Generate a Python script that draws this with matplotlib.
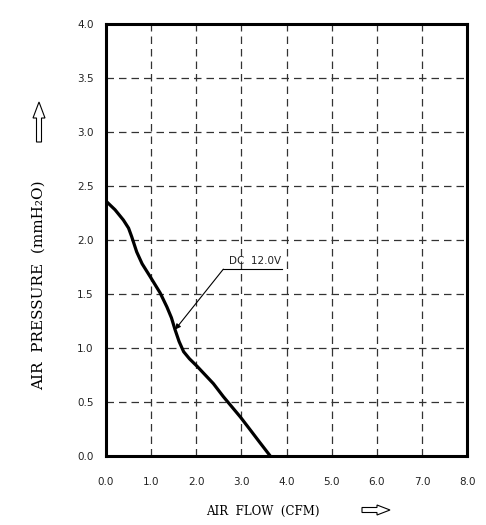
import matplotlib
matplotlib.use("Agg")
import matplotlib.pyplot as plt
from matplotlib.patches import FancyArrow

# Data
flow = [0.0, 0.2, 0.385, 0.5, 0.57, 0.68, 0.8, 0.98, 1.2, 1.35, 1.45, 1.53, 1.62, 1.72, 1.85, 2.02, 2.2, 2.38, 2.6, 2.8, 2.98, 3.2, 3.4, 3.64]
pressure = [2.36, 2.28, 2.185, 2.11, 2.03, 1.89, 1.78, 1.66, 1.51, 1.38, 1.28, 1.17, 1.06, 0.966, 0.9, 0.83, 0.75, 0.67, 0.55, 0.45, 0.36, 0.24, 0.13, 0.0]
xticks = [0, 1, 2, 3, 4, 5, 6, 7, 8]
yticks = [0, 0.5, 1.0, 1.5, 2.0, 2.5, 3.0, 3.5, 4.0]
label_text = "DC  12.0V"

fig = plt.figure(figsize=(4.86, 5.25), dpi=100)
ax = fig.add_axes([106/486, 69/525, (467-106)/486, (456-24)/525])

ax.plot(flow, pressure, color="black", lw=2.3, solid_capstyle="butt")
ax.set_xlim(0, 8)
ax.set_ylim(0, 4)
ax.set_xticks(xticks)
ax.set_yticks(yticks)
ax.set_xticklabels([f"{v:.1f}" for v in xticks])
ax.set_yticklabels([f"{v:.1f}" for v in yticks])
ax.tick_params(length=0, labelsize=7.5, colors="#222222")
ax.tick_params(axis="y", pad=9)
ax.tick_params(axis="x", pad=15)
ax.grid(True, color="#333333", lw=0.9, linestyle=(0, (6, 4)))
for s in ax.spines.values():
    s.set_linewidth(2.2)
    s.set_color("black")

# annotation
ax.annotate("", xy=(1.53, 1.17), xytext=(2.6, 1.73),
            arrowprops=dict(arrowstyle="-|>", color="black", lw=0.8,
                            mutation_scale=8, shrinkA=0, shrinkB=0))
ax.plot([2.6, 3.9], [1.73, 1.73], color="black", lw=0.8)
ax.text(2.72, 1.76, label_text, fontsize=7.5, ha="left", va="bottom", color="#222222")

# axis labels
fig.text(39/486, 1 - 285/525, "AIR  PRESSURE  (mmH\u2082O)", rotation=90,
         ha="center", va="center", fontsize=11, family="DejaVu Serif")
fig.text(263/486, 1 - 511/525, "AIR  FLOW  (CFM)", ha="center", va="center",
         fontsize=8.5, family="DejaVu Serif")

# hollow arrows (inch coords)
tr = fig.dpi_scale_trans
fig.add_artist(FancyArrow(0.39, 3.83, 0, 0.40, width=0.05, head_width=0.12,
                          head_length=0.16, length_includes_head=True,
                          fill=False, ec="black", lw=0.8, transform=tr))
fig.add_artist(FancyArrow(3.62, 0.15, 0.28, 0, width=0.05, head_width=0.10,
                          head_length=0.13, length_includes_head=True,
                          fill=False, ec="black", lw=0.8, transform=tr))

fig.savefig("out.png", dpi=100)
